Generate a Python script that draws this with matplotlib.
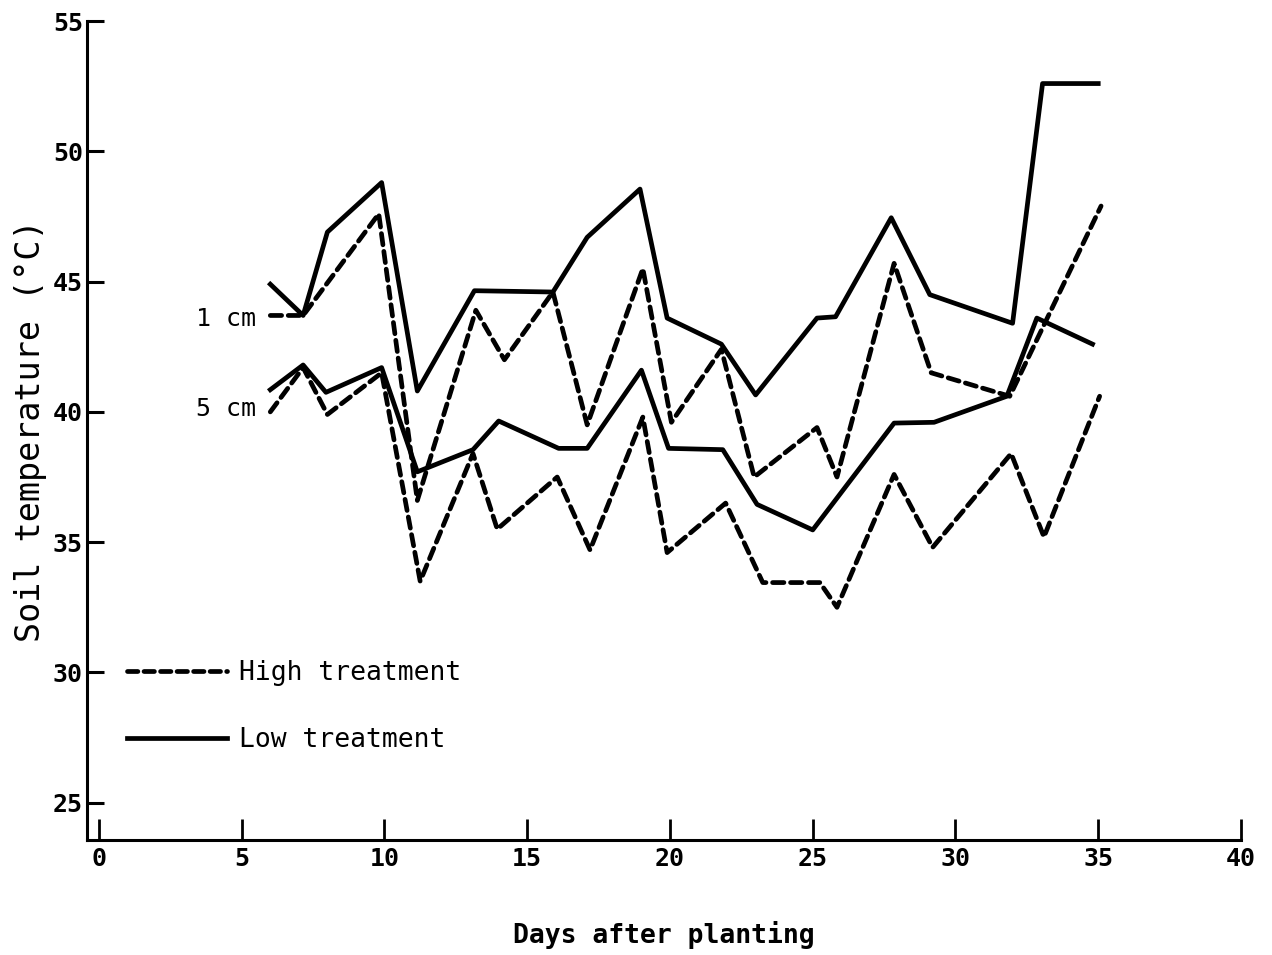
import matplotlib
matplotlib.use("Agg")
import matplotlib.pyplot as plt
from matplotlib.lines import Line2D

# Soil temperature at two depths under high and low treatment
low_1cm_days = [6.0, 7.15, 8.0, 9.9, 11.15, 13.15, 15.9, 17.1, 18.95, 19.9,
                21.8, 23.0, 25.15, 25.8, 27.75, 29.1, 32.0, 33.05, 35.0]
low_1cm_temp = [44.9, 43.7, 46.9, 48.8, 40.8, 44.65, 44.6, 46.7, 48.55, 43.6,
                42.6, 40.65, 43.6, 43.65, 47.45, 44.5, 43.4, 52.6, 52.6]

high_1cm_days = [6.0, 7.15, 9.8, 11.15, 13.2, 14.2, 15.9, 17.1, 19.05, 20.05,
                 21.8, 22.95, 25.15, 25.85, 27.85, 29.15, 31.9, 35.1]
high_1cm_temp = [43.7, 43.7, 47.6, 36.6, 43.9, 42.0, 44.6, 39.5, 45.5, 39.6,
                 42.4, 37.5, 39.4, 37.5, 45.7, 41.5, 40.6, 47.9]

low_5cm_days = [6.0, 7.15, 7.95, 9.9, 11.15, 13.1, 14.0, 16.1, 17.1, 19.0,
                19.95, 21.85, 23.05, 25.0, 27.85, 29.25, 31.8, 32.85, 34.8]
low_5cm_temp = [40.85, 41.8, 40.75, 41.7, 37.7, 38.55, 39.65, 38.6, 38.6, 41.6,
                38.6, 38.55, 36.45, 35.47, 39.57, 39.6, 40.6, 43.6, 42.6]

high_5cm_days = [6.0, 7.15, 8.0, 9.9, 11.25, 13.1, 13.95, 16.05, 17.2, 19.05,
                 19.9, 21.95, 23.25, 25.25, 25.85, 27.85, 29.2, 31.95, 33.1, 35.05]
high_5cm_temp = [40.0, 41.7, 39.9, 41.5, 33.5, 38.4, 35.5, 37.5, 34.7, 39.8,
                 34.6, 36.5, 33.45, 33.45, 32.5, 37.6, 34.8, 38.4, 35.2, 40.6]

x_ticks = [0, 5, 10, 15, 20, 25, 30, 35, 40]
y_ticks = [25, 30, 35, 40, 45, 50, 55]

mono = "DejaVu Sans Mono"
dash = (0, (2.4, 1.4))

fig = plt.figure(figsize=(12.72, 9.55), dpi=100)
ax = fig.add_axes([0.0684, 0.1204, 0.9072, 0.8576])

line_kw = dict(color="black", lw=3.4, solid_joinstyle="round",
               dash_joinstyle="round", dash_capstyle="round")
ax.plot(low_1cm_days, low_1cm_temp, "-", **line_kw)
ax.plot(high_1cm_days, high_1cm_temp, linestyle=dash, **line_kw)
ax.plot(low_5cm_days, low_5cm_temp, "-", **line_kw)
ax.plot(high_5cm_days, high_5cm_temp, linestyle=dash, **line_kw)

# depth labels next to the start of each pair of curves
ax.text(5.5, 43.55, "1 cm", family=mono, fontsize=18, ha="right", va="center")
ax.text(5.5, 40.1, "5 cm", family=mono, fontsize=18, ha="right", va="center")

ax.set_xlim(-0.42, 40)
ax.set_ylim(23.57, 55)
ax.set_xticks(x_ticks)
ax.set_yticks(y_ticks)

for side in ["top", "right"]:
    ax.spines[side].set_visible(False)
for side in ["left", "bottom"]:
    ax.spines[side].set_linewidth(2.2)

ax.tick_params(axis="y", direction="in", length=12, width=2.2, pad=3)
ax.tick_params(axis="x", direction="in", length=15, width=2.0, pad=5)
for lab in ax.get_xticklabels() + ax.get_yticklabels():
    lab.set_family(mono)
    lab.set_fontsize(18)
    lab.set_fontweight("bold")

ax.set_xlabel("Days after planting", family=mono, fontsize=19,
              fontweight="bold", labelpad=36)
ax.set_ylabel("Soil temperature (\u00b0C)", family=mono, fontsize=24,
              labelpad=4)

handles = [
    Line2D([], [], color="black", lw=3.4, linestyle=(0, (2.2, 1.3)),
           dash_capstyle="round"),
    Line2D([], [], color="black", lw=3.4),
]
ax.legend(handles, ["High treatment", "Low treatment"], loc="upper left",
          bbox_to_anchor=(0.0347, 0.2195), frameon=False, borderpad=0,
          borderaxespad=0, handlelength=3.8, handletextpad=0.45,
          labelspacing=1.55, prop={"family": mono, "size": 19})

plt.savefig("out.png", dpi=100)
